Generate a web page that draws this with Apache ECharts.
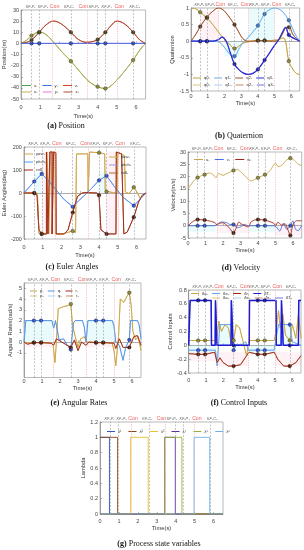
<!DOCTYPE html>
<html><head><meta charset="utf-8">
<script src="https://cdn.jsdelivr.net/npm/echarts@6/dist/echarts.min.js"></script>
<style>html,body{margin:0;padding:0;background:#fff}#c{width:304px;height:550px}</style>
</head><body><div id="c"></div>
<script>
// ---------- shared event data ----------
const eventT = [0.55, 0.95, 2.6, 4.0, 4.4, 5.85];
const conT = [1.65, 3.45, 5.0];
const headerText = ['KF-P₁','KF-P₂','Con','KF-C₁','Con','KF-P₃','KF-P₄','Con','KF-C₂'];
const headerT = [0.5, 1.14, 1.75, 2.5, 3.25, 3.8, 4.47, 5.12, 5.93];
const xTicks = [0,1,2,3,4,5,6];

// ---------- (a) Position ----------
const posTicks = [-50,-40,-30,-20,-10,0,10,20,30];
const posX = [[0,0],[0.3,3],[0.55,7],[0.95,10],[1.3,8],[1.7,1],[2.1,-7],[2.6,-16],[3.0,-24],[3.3,-30],[3.6,-35],[4.0,-39],[4.4,-40.5],[4.7,-38],[5.0,-33],[5.4,-25],[5.85,-15],[6.2,-6],[6.5,0]];
const posY = [[0,0],[0.55,0],[0.95,0],[1.65,0],[2.6,0],[3.45,0],[4.0,0],[4.4,0],[5.0,0],[5.85,0],[6.5,0]];
const posZ = [[0,0],[0.3,1],[0.55,3],[0.95,10],[1.3,16.5],[1.7,20],[2.1,17.5],[2.6,10],[3.0,3.5],[3.4,1],[3.7,1.5],[4.0,3.5],[4.4,10],[4.7,16],[5.0,20],[5.4,17.5],[5.85,10],[6.2,3],[6.5,0]];

// ---------- (b) Quaternion ----------
const quatTicks = [-1.5,-1,-0.5,0,0.5,1];
const quatT = [0,0.3,0.55,0.95,1.3,1.65,1.85,2.1,2.35,2.6,2.85,3.1,3.4,3.7,4.0,4.4,4.7,5.0,5.25,5.5,5.65,5.85,6.1,6.3,6.5];
const q0v = [1,0.97,0.87,0.7,0.5,0.27,0.14,0.02,-0.12,-0.22,-0.15,-0.06,-0.02,0,0.02,0.02,0.02,0.03,0.05,0.1,0.0,-0.6,-0.85,-0.97,-1];
const q1v = [0,0,0,0,0,-0.02,-0.1,-0.25,-0.4,-0.45,-0.25,-0.05,0.1,0.28,0.47,0.82,0.95,1.0,0.97,0.88,0.78,0.63,0.35,0.15,0];
const q2v = [0,0.22,0.44,0.72,0.9,1.0,0.97,0.85,0.68,0.5,0.28,0.08,0,0,0.02,0.02,0,0,0.05,0.25,0.4,0.42,0.2,0.08,0];
const q3v = [0,0,0,0,0,0.05,0.12,0,-0.35,-0.69,-0.85,-0.95,-1.0,-0.97,-0.85,-0.57,-0.35,-0.12,0.05,0.3,0.42,0.19,0.1,0.05,0];

// ---------- (c) Euler angles ----------
const eulTicks = [-200,-100,0,100,200];
const yawD = [[0,0],[0.55,0],[0.72,-5],[0.8,-175],[0.95,-178],[1.22,-178],[1.22,178],[1.32,178],[1.32,-178],[1.42,-178],[1.42,178],[1.62,178],[1.66,160],[1.68,-178],[2.0,-178],[2.3,-172],[2.6,-165],[2.75,-172],[2.8,-178],[2.8,170],[3.4,170],[3.42,-2],[3.48,-2],[3.5,178],[4.0,175],[4.3,170],[4.33,10],[4.4,5],[4.7,2],[4.96,0],[5.0,178],[5.1,172],[5.35,162],[5.4,5],[5.6,-3],[5.85,25],[6.05,0],[6.2,-25],[6.5,0]];
const pitchD = [[0,0],[0.55,50],[0.95,83],[1.3,55],[1.7,15],[2.1,-25],[2.6,-60],[2.9,-35],[3.3,-5],[3.6,20],[4.0,55],[4.4,75],[4.8,30],[5.3,-20],[5.85,-55],[6.2,-25],[6.5,0]];
const rollD = [[0,0],[0.55,0],[0.7,-10],[0.8,-160],[0.95,-178],[1.2,-178],[1.2,178],[1.28,178],[1.28,-178],[1.38,-178],[1.38,178],[1.5,178],[1.5,-178],[1.58,-178],[1.58,178],[1.7,175],[1.72,-178],[2.15,-178],[2.35,-160],[2.6,-85],[2.85,-15],[3.1,0],[3.3,2],[3.9,0],[4.0,-10],[4.1,-160],[4.4,-178],[4.9,-178],[4.92,178],[5.2,170],[5.3,165],[5.32,-178],[5.5,-170],[5.85,-105],[6.1,-40],[6.3,-10],[6.5,0]];

// ---------- (d) Velocity ----------
const velTicks = [-5,0,5,10,15,20,25,30];
const velU = [[0,15],[0.2,17],[0.4,18.8],[0.55,19.6],[0.75,20.3],[0.95,20.8],[1.2,21.5],[1.4,21],[1.6,19.5],[1.75,21.3],[2.0,20.5],[2.3,21.5],[2.6,22.5],[2.8,23],[3.0,22],[3.3,20],[3.6,18.2],[3.8,18.8],[4.0,19.5],[4.4,20.8],[4.7,22.5],[5.0,25.5],[5.15,24],[5.4,24.8],[5.6,26.5],[5.85,27.5],[6.1,26.5],[6.3,25],[6.5,24.5]];
const velV = [[0,0],[0.55,0],[0.95,0],[1.5,0],[1.65,0.5],[1.9,1.5],[2.2,1.3],[2.4,0.5],[2.6,0.5],[2.8,-0.8],[3.0,-0.5],[3.2,0.5],[3.45,0],[4.0,0],[4.4,0],[4.9,0],[5.05,-0.5],[5.25,-2.2],[5.45,1],[5.65,-1.5],[5.85,0],[6.0,2],[6.15,-1.5],[6.3,-2],[6.5,0]];
const velW = [[0,0],[0.3,1.8],[0.55,2.5],[0.95,2.3],[1.3,1.8],[1.55,1.2],[1.65,0.3],[1.8,1],[2.0,1.2],[2.2,0.3],[2.4,-1.2],[2.6,-3],[2.75,-1],[2.9,1.5],[3.1,0.5],[3.3,-0.2],[3.45,-0.5],[3.6,1.5],[3.8,2.3],[4.0,2.5],[4.4,2.3],[4.7,1.6],[4.9,1],[5.0,0],[5.15,1.5],[5.35,0.2],[5.55,0.8],[5.7,-1.5],[5.85,-4],[6.0,0.5],[6.2,2],[6.5,2]];

// ---------- (e) Angular rates ----------
const rateTicks = [-1,0,1,2,3,4,5];
const rateP = [[0,0],[0.3,-0.1],[0.55,-0.05],[0.95,-0.05],[1.5,-0.1],[1.62,-0.3],[1.72,-1.9],[1.8,0],[1.9,3.1],[2.2,3.3],[2.45,3.4],[2.6,3.55],[2.7,1.5],[2.85,0.5],[3.0,-0.5],[3.15,0.3],[3.35,0.5],[3.5,0],[4.0,-0.05],[4.4,-0.05],[4.9,-0.1],[5.0,-0.8],[5.1,-2.2],[5.25,0.5],[5.35,4.0],[5.55,3.7],[5.7,4.2],[5.85,4.6],[5.95,3.5],[6.05,1.0],[6.2,0.2],[6.35,0.5],[6.5,-0.8]];
const rateQ = [[0,0],[0.1,2],[0.55,2],[0.95,2],[1.55,2],[1.65,1.3],[1.75,2],[1.85,2],[1.95,0.2],[2.2,0.3],[2.4,-0.3],[2.6,-0.7],[2.75,1.8],[2.85,2],[3.25,2],[3.35,1.4],[3.45,0],[3.55,2],[4.0,2],[4.4,2],[4.9,2],[5.0,1.5],[5.1,0],[5.3,-0.3],[5.5,-1.7],[5.65,-0.5],[5.85,0.2],[5.92,2],[6.3,2],[6.4,1.6],[6.5,0.3]];
const rateR = [[0,0],[0.2,-0.2],[0.55,-0.05],[0.95,-0.05],[1.5,-0.1],[1.65,-0.3],[1.8,0.3],[2.0,0.1],[2.3,-0.2],[2.6,-0.5],[2.8,0.2],[3.0,-0.8],[3.2,0],[3.45,-0.3],[3.6,0],[4.0,-0.05],[4.4,-0.05],[5.0,-0.1],[5.1,-0.6],[5.3,0.3],[5.5,-0.5],[5.85,-0.5],[6.1,0.5],[6.3,0.6],[6.5,-0.3]];

// ---------- (f) Control inputs ----------
const ctrlTicks = [-0.4,-0.2,0,0.2,0.4,0.6,0.8];
const ctrlA = [[0,0.07],[0.55,0.07],[0.95,0.07],[1.55,0.07],[1.65,0.15],[1.75,0.35],[1.9,0.2],[2.1,0.3],[2.3,0.25],[2.45,0.05],[2.6,0.07],[2.75,0.3],[2.95,0.25],[3.15,0.05],[3.35,-0.15],[3.5,0.07],[4.0,0.07],[4.4,0.07],[4.95,0.07],[5.05,0.2],[5.2,0.5],[5.3,0.25],[5.45,0.45],[5.6,0.15],[5.85,0.07],[6.0,0.3],[6.2,0.1],[6.35,0.45],[6.5,0.1]];
const ctrlE = [[0,-0.07],[0.55,-0.07],[0.95,-0.07],[1.55,-0.07],[1.65,-0.3],[1.8,0.3],[2.45,0.3],[2.55,0.15],[2.6,-0.07],[2.8,0.02],[3.0,0],[3.3,0.05],[3.45,-0.07],[4.0,-0.07],[4.4,-0.07],[4.95,-0.07],[5.05,0.1],[5.2,0.3],[5.7,0.3],[5.85,0.3],[6.0,0.05],[6.5,0]];
const ctrlR = [[0,-0.12],[0.55,-0.13],[0.95,-0.13],[1.5,-0.1],[1.65,-0.25],[1.8,-0.18],[2.0,-0.25],[2.3,-0.3],[2.6,-0.3],[3.0,-0.28],[3.35,-0.15],[3.5,-0.1],[4.0,-0.13],[4.4,-0.13],[4.95,-0.1],[5.15,-0.2],[5.5,-0.3],[5.85,-0.3],[6.2,-0.25],[6.5,-0.15]];
const ctrlT = [[0,0],[0.08,0.65],[0.55,0.65],[0.95,0.65],[1.3,0.65],[1.32,0],[1.53,0],[1.55,0.65],[1.62,0.65],[1.64,0],[2.45,0],[2.47,0.65],[2.55,0.65],[2.57,0],[2.6,0],[3.5,0],[3.52,0.65],[4.0,0.65],[4.4,0.65],[5.05,0.65],[5.07,0],[5.35,0],[5.37,0.65],[5.45,0.65],[5.47,0],[5.85,0],[6.35,0],[6.37,0.65],[6.5,0.65]];

// ---------- (g) Process state variables ----------
const lamTicks = [0,0.2,0.4,0.6,0.8,1,1.2];
const lam1 = [[0,1],[0.5,1],[0.5,0],[6.5,0]];
const lam2 = [[0,1],[0.93,1],[0.93,0],[6.5,0]];
const lam3 = [[0,0],[1.62,0],[1.62,1],[2.55,1],[2.55,0],[6.5,0]];
const lam4 = [[0,0],[3.42,0],[3.42,1],[3.98,1],[3.98,0],[6.5,0]];
const lam5 = [[0,0],[3.42,0],[3.42,1],[4.33,1],[4.33,0],[6.5,0]];
const lam6 = [[0,0],[4.97,0],[4.97,1],[5.8,1],[5.8,0],[6.5,0]];

const zip = (t, v) => t.map((x, i) => [x, v[i]]);
function pts(arr, markColor) {
  return arr.map(p => (markColor && eventT.indexOf(p[0]) >= 0)
    ? { value: p, symbolSize: 3.6, itemStyle: { color: markColor, borderColor: '#222', borderWidth: 0.4 } }
    : { value: p, symbolSize: 0 });
}
const CYAN = 'rgba(140,235,250,0.18)', PINK = 'rgba(255,160,200,0.14)';

const panels = [
{ grid:{left:21,top:10,width:124.6,height:89}, ymin:-50, ymax:30, yticks:posTicks,
  yname:'Position(m)', yng:13, xm:5, xng:14, cap:'{b|(a)} Position', capX:66, capY:126,
  series:[
    {n:'y₂', d:posY, c:'#e07ae0'},
    {n:'x₁', d:posX, c:'#4aa64a', s:0.4},
    {n:'z₁', d:posZ, c:'#d8402e', s:0.4},
    {n:'x₂', d:posX, c:'#c9ad4c', s:0.4, m:'#8f8a2c'},
    {n:'z₂', d:posZ, c:'#a84a2e', s:0.4, m:'#4a4218'},
    {n:'y₁', d:posY, c:'#3a6fe6', m:'#2a4fd0'}
  ],
  legends:[{names:['x₁','y₁','z₁'], left:22, top:83.5, gap:5},{names:['x₂','y₂','z₂'], left:22, top:90, gap:5}],
  areas:[] },
{ grid:{left:191,top:8,width:108.7,height:83}, ymin:-1.5, ymax:1, yticks:quatTicks,
  yname:'Quaternion', yng:11, xm:2, xng:8, cap:'{b|(b)} Quaternion', capX:239, capY:136,
  series:[
    {n:'q0₂', d:zip(quatT,q0v), c:'#dcc478', s:0.4},
    {n:'q1₂', d:zip(quatT,q1v), c:'#a8d0f8', s:0.4},
    {n:'q2₂', d:zip(quatT,q2v), c:'#c98a60', s:0.4},
    {n:'q3₂', d:zip(quatT,q3v), c:'#7070e8', s:0.4},
    {n:'q0₁', d:zip(quatT,q0v), c:'#bfa040', s:0.4, m:'#8f8a2c'},
    {n:'q1₁', d:zip(quatT,q1v), c:'#68aef0', s:0.4, m:'#3a7fe0'},
    {n:'q2₁', d:zip(quatT,q2v), c:'#a0522d', s:0.4, m:'#5a3a18'},
    {n:'q3₁', d:zip(quatT,q3v), c:'#2b2bd6', s:0.4, m:'#2020c0', w:1.2}
  ],
  legends:[{names:['q0₁','q1₁','q2₁','q3₁'], left:193, top:76, gap:4, iw:8},{names:['q0₂','q1₂','q2₂','q3₂'], left:193, top:83, gap:4, iw:8}],
  areas:[[0.55,0,1.65,0.9,PINK],[3.45,0,5.0,1.0,CYAN],[2.0,-0.45,2.9,0,CYAN]] },
{ grid:{left:23.3,top:147,width:122.7,height:92}, ymin:-200, ymax:200, yticks:eulTicks,
  yname:'Euler Angles(deg)', yng:16, xm:5, xng:13, cap:'{b|(c)} Euler Angles', capX:72, capY:267,
  series:[
    {n:'yaw₂', d:yawD, c:'#c8b040'},
    {n:'pitch₂', d:pitchD, c:'#9a90e8'},
    {n:'roll₂', d:rollD, c:'#b06030'},
    {n:'yaw₁', d:yawD, c:'#d2a65a', m:'#8f8a2c'},
    {n:'pitch₁', d:pitchD, c:'#4a9af0', m:'#3050e0'},
    {n:'roll₁', d:rollD, c:'#a02818', m:'#5a1a0a'}
  ],
  legends:[{names:['yaw₁','pitch₁','roll₁'], left:24, top:152, orient:'vertical', gap:4},{names:['yaw₂','pitch₂','roll₂'], left:109, top:155, orient:'vertical', gap:4}],
  areas:[[0.55,0,0.95,90,CYAN],[3.95,0,4.4,90,CYAN],[0.95,-180,1.65,180,PINK],[4.4,-180,5.0,180,PINK]] },
{ grid:{left:188,top:152,width:113.7,height:86}, ymin:-5, ymax:30, yticks:velTicks,
  yname:'Velocity(m/s)', yng:10, xm:2.5, xng:8, cap:'{b|(d)} Velocity', capX:241, capY:268,
  series:[
    {n:'u₁', d:velU, c:'#c9a544', m:'#8f8a2c', s:0.2},
    {n:'v₁', d:velV, c:'#4070e0', m:'#2a4fd0', s:0.2},
    {n:'w₁', d:velW, c:'#a02818', m:'#5a1a0a', s:0.2}
  ],
  legends:[{names:['u₁','v₁','w₁'], left:194, top:157.5, gap:5}],
  areas:[[0,-2.5,1.6,0,CYAN],[3.45,-2.5,5.0,0,CYAN],[1.65,-3,3.45,1,PINK],[5.0,-4,6.5,1,PINK]] },
{ grid:{left:24,top:283,width:117,height:94.5}, ymin:-3.3, ymax:5.5, yticks:rateTicks,
  yname:'Angular Rates(rad/s)', yng:8, xm:1, xng:7, cap:'{b|(e)} Angular Rates', capX:79, capY:403,
  series:[
    {n:'p₂', d:rateP, c:'#dcc478'},
    {n:'q₂', d:rateQ, c:'#a8d0f8'},
    {n:'r₂', d:rateR, c:'#c98a60'},
    {n:'p₁', d:rateP, c:'#c9a544', m:'#8f8a2c'},
    {n:'q₁', d:rateQ, c:'#4a8ee8', m:'#3050e0'},
    {n:'r₁', d:rateR, c:'#a02818', m:'#5a1a0a'}
  ],
  legends:[{names:['p₁','q₁','r₁'], left:30, top:289, gap:4, iw:7},{names:['p₂','q₂','r₂'], left:30, top:294, gap:4, iw:7}],
  areas:[[0,0,1.6,2,CYAN],[3.45,0,5.0,2,CYAN],[0,-0.5,1.6,0,PINK],[3.45,-0.5,5.0,0,PINK]] },
{ grid:{left:188.7,top:290,width:112.3,height:83}, ymin:-0.4, ymax:0.8, yticks:ctrlTicks,
  yname:'Control Inputs', yng:11, xm:4, xng:11, cap:'{b|(f)} Control Inputs', capX:239, capY:403,
  series:[
    {n:'δa₂', d:ctrlA, c:'#dcc478'},
    {n:'δe₂', d:ctrlE, c:'#a8d0f8'},
    {n:'δr₂', d:ctrlR, c:'#c98a60'},
    {n:'δT₂', d:ctrlT, c:'#7070e8'},
    {n:'δa₁', d:ctrlA, c:'#c9a544', m:'#8f8a2c'},
    {n:'δe₁', d:ctrlE, c:'#5aa6f0', m:'#3050e0'},
    {n:'δr₁', d:ctrlR, c:'#a02818', m:'#5a1a0a'},
    {n:'δT₁', d:ctrlT, c:'#1c1cd8', m:'#1010b0', w:1.5}
  ],
  legends:[{names:['δa₁','δe₁','δr₁','δT₁'], left:191, top:291.5, gap:4, iw:8},{names:['δa₂','δe₂','δr₂','δT₂'], left:212, top:296, gap:4, iw:8}],
  areas:[[1.8,0,2.6,0.3,CYAN],[5.1,0,5.85,0.3,CYAN],[0,-0.1,1.6,0,CYAN],[3.45,-0.1,5.0,0,CYAN],[1.65,-0.3,3.45,-0.1,PINK],[5.0,-0.3,6.5,-0.1,PINK],[0,-0.23,1.6,-0.1,PINK]] },
{ grid:{left:100,top:422,width:123,height:92}, ymin:0, ymax:1.2, yticks:lamTicks,
  yname:'Lambda', yng:12, xm:4, xng:10, cap:'{b|(g)} Process state variables', capX:159, capY:544,
  series:[
    {n:'λ¹', d:lam1, c:'#3050d0'},
    {n:'λ²', d:lam2, c:'#8b4513'},
    {n:'λ³', d:lam3, c:'#e8c030'},
    {n:'λ⁴', d:lam4, c:'#5a2aa0'},
    {n:'λ⁵', d:lam5, c:'#9ab030'},
    {n:'λ⁶', d:lam6, c:'#70b0e8'}
  ],
  legends:[{names:['λ¹','λ²','λ³','λ⁴','λ⁵','λ⁶'], left:107, top:429.5, gap:7, iw:8}],
  areas:[] }
];

const FONT = 'Liberation Sans, Arial, sans-serif';
const option = { animation:false, backgroundColor:'#fff', textStyle:{fontFamily:FONT},
  grid:[], xAxis:[], yAxis:[], legend:[], series:[], graphic:[] };

panels.forEach((P, i) => {
  option.grid.push(Object.assign({show:true, borderColor:'#8a8a8a', borderWidth:0.6}, P.grid));
  option.xAxis.push({ gridIndex:i, type:'value', min:0, max:6.5,
    name:'Time(s)', nameLocation:'middle', nameGap:P.xng, nameTextStyle:{fontSize:5.8, color:'#333'},
    axisLine:{show:true, lineStyle:{color:'#777', width:0.6}},
    axisTick:{show:true, inside:true, length:2, customValues:xTicks, lineStyle:{color:'#777', width:0.5}},
    axisLabel:{customValues:xTicks, fontSize:5.5, color:'#444', margin:P.xm},
    splitLine:{show:false} });
  option.yAxis.push({ gridIndex:i, type:'value', min:P.ymin, max:P.ymax,
    name:P.yname, nameLocation:'middle', nameGap:P.yng, nameTextStyle:{fontSize:5.8, color:'#333'},
    axisLine:{show:true, lineStyle:{color:'#777', width:0.6}},
    axisTick:{show:true, inside:true, length:2, customValues:P.yticks, lineStyle:{color:'#777', width:0.5}},
    axisLabel:{customValues:P.yticks, fontSize:5.5, color:'#444', margin:2},
    splitLine:{show:false} });
  // header labels, event lines and shaded regions
  option.series.push({ type:'scatter', xAxisIndex:i, yAxisIndex:i, clip:false, silent:true, z:6,
    symbolSize:0.1, itemStyle:{color:'rgba(0,0,0,0)'},
    label:{show:true, position:'top', distance:1, formatter:'{b}', fontFamily:FONT},
    data: headerT.map((t, k) => {
      const con = headerText[k] === 'Con';
      return { name: headerText[k], value:[t, P.ymax],
        label:{ color: con ? '#e8322f' : '#333', fontSize: con ? 5.2 : 3.8, fontStyle: con ? 'normal' : 'italic' } };
    }),
    markLine:{ silent:true, symbol:['none','none'], label:{show:false},
      data: eventT.map(t => ({xAxis:t, lineStyle:{color:'#8a8a8a', type:[2,1.5], width:0.5}}))
        .concat(conT.map(t => ({xAxis:t, lineStyle:{color:'#f09a9a', type:[1.2,1.2], width:0.6}}))) },
    markArea:{ silent:true, data: P.areas.map(a => [{xAxis:a[0], yAxis:a[1], itemStyle:{color:a[4]}},{xAxis:a[2], yAxis:a[3]}]) }
  });
  P.series.forEach(s => {
    option.series.push({ type:'line', name:s.n, xAxisIndex:i, yAxisIndex:i, color:s.c,
      data: pts(s.d, s.m), symbol:'circle', symbolSize:0, showSymbol:true, showAllSymbol:true,
      smooth: s.s || false, clip:true, z:3,
      lineStyle:{color:s.c, width:s.w || 0.9},
      itemStyle:{color:s.c} });
  });
  P.legends.forEach(L => {
    option.legend.push({ data:L.names, left:L.left, top:L.top, orient:L.orient || 'horizontal',
      icon:'rect', itemWidth:L.iw || 9, itemHeight:1, itemGap:L.gap || 3, padding:0, selectedMode:false,
      textStyle:{fontSize:4.2, color:'#333', fontFamily:FONT, padding:[0,0,0,-2]} });
  });
  option.graphic.push({ type:'text', x:P.capX, y:P.capY, silent:true,
    style:{ text:P.cap, fontSize:8, fontFamily:'Liberation Serif, serif', fill:'#111',
      align:'center', verticalAlign:'middle', textAlign:'center', textVerticalAlign:'middle',
      rich:{ b:{ fontWeight:'bold', fontSize:8, fontFamily:'Liberation Serif, serif' } } } });
});

const chart = echarts.init(document.getElementById('c'), null, {renderer:'canvas', width:304, height:550});
chart.setOption(option);
</script>
</body></html>
